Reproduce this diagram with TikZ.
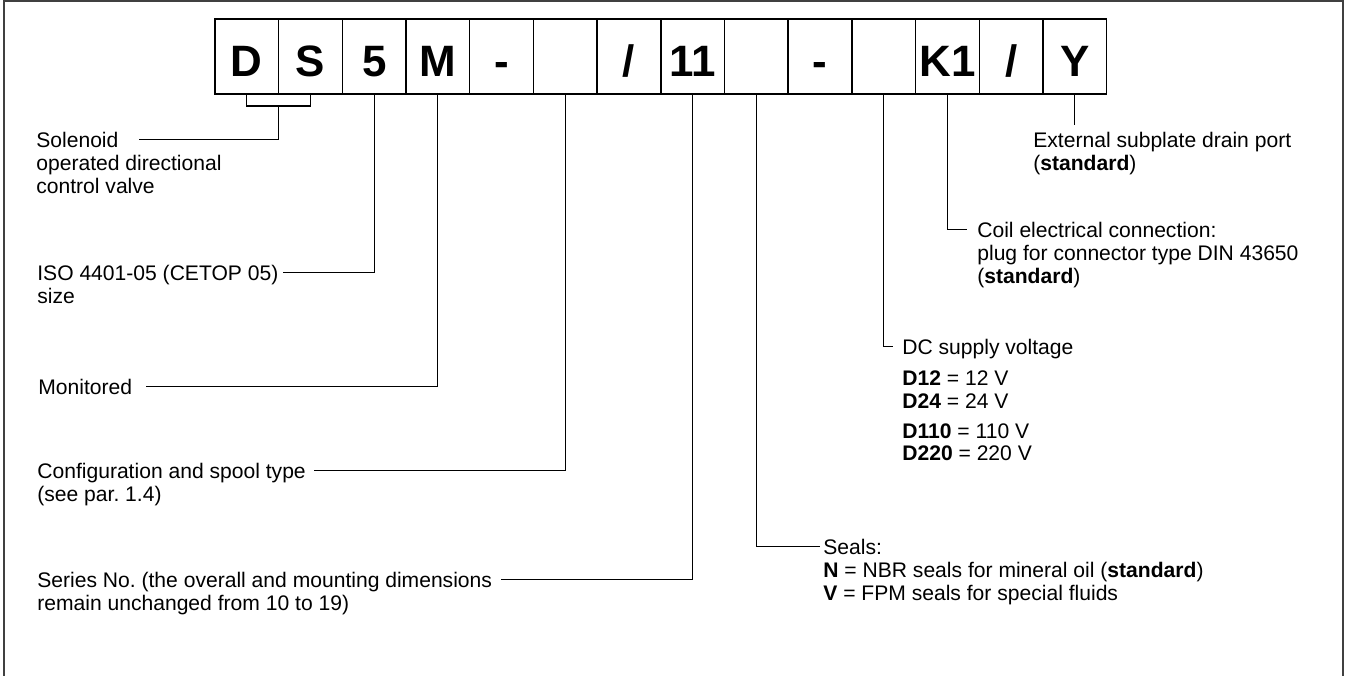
\documentclass[tikz,border=0pt]{standalone}
\usepackage{fontspec}
\setmainfont{Liberation Sans}
\usetikzlibrary{positioning,calc}
\frenchspacing

\begin{document}
\begin{tikzpicture}[
  x=0.02cm, y=-0.02cm,
  cell/.style={draw, line width=0.8pt, minimum width=1.274cm, minimum height=1.5cm,
    inner sep=0pt, outer sep=0pt, text height=0.82cm, text depth=0pt,
    font=\fontsize{25}{30}\selectfont\bfseries},
  lhead/.style={inner sep=0pt, anchor=base west, text height=8.6pt, text depth=0pt,
    font=\fontsize{12}{12.9}\selectfont},
  lbody/.style={inner sep=0pt, align=left, font=\fontsize{12}{12.9}\selectfont},
  lead/.style={line width=0.65pt},
  node distance=0pt,
]
\useasboundingbox (0,0) rectangle (1349,676);
\draw[line width=0.9pt, black!75] (4,676) -- (4,1) -- (1343,1) -- (1343,676);

% ===== Ordering code =====
\node[cell] (k1) at (246.85,56.5) {D};
\node[cell, right=of k1] (k2) {S};
\node[cell, right=of k2] (k3) {5};
\node[cell, right=of k3] (k4) {M};
\node[cell, right=of k4] (k5) {-};
\node[cell, right=of k5] (k6) {};
\node[cell, right=of k6] (k7) {/};
\node[cell, right=of k7] (k8) {11};
\node[cell, right=of k8] (k9) {};
\node[cell, right=of k9] (k10) {-};
\node[cell, right=of k10] (k11) {};
\node[cell, right=of k11] (k12) {K1};
\node[cell, right=of k12] (k13) {/};
\node[cell, right=of k13] (k14) {Y};

% ===== Left labels =====
\node[lhead] (lsol) at (36,147) {Solenoid};
\node[lbody, below right=3.87pt and 0pt of lsol.south west] (lsolb) {\strut operated directional\\control valve};
\node[lhead] (liso) at (37,280) {ISO 4401-05 (CETOP 05)};
\node[lbody, below right=3.87pt and 0pt of liso.south west] (lisob) {\strut size};
\node[lhead] (lmon) at (38,394) {Monitored};
\node[lhead] (lcfg) at (37,478) {Configuration and spool type};
\node[lbody, below right=3.87pt and 0pt of lcfg.south west] (lcfgb) {\strut (see par. 1.4)};
\node[lhead] (lser) at (37,587) {Series No. (the overall and mounting dimensions};
\node[lbody, below right=3.87pt and 0pt of lser.south west] (lserb) {\strut remain unchanged from 10 to 19)};

% ===== Right labels =====
\node[lhead] (lext) at (1033,147) {External subplate drain port};
\node[lbody, below right=3.87pt and 0pt of lext.south west] (lextb) {\strut(\textbf{standard})};
\node[lhead] (lcoil) at (977,237) {Coil electrical connection:};
\node[lbody, below right=3.87pt and 0pt of lcoil.south west] (lcoilb) {\strut plug for connector type DIN 43650\\(\textbf{standard})};
\node[lhead] (ldc) at (902,354) {DC supply voltage};
\node[lbody, below right=8.6pt and 0pt of ldc.south west] (ldcb) {\strut\textbf{D12} = 12 V\\\textbf{D24} = 24 V\\[4pt]\textbf{D110} = 110 V\\\textbf{D220} = 220 V};
\node[lhead] (lseal) at (823,554) {Seals:};
\node[lbody, below right=3.87pt and 0pt of lseal.south west] (lsealb) {\strut\textbf{N} = NBR seals for mineral oil (\textbf{standard})\\\textbf{V} = FPM seals for special fluids};

% ===== Leaders =====
\draw[lead] (k1.south) -- ++(0,12) -| (k2.south);
\draw[lead] ($(k1.south)!0.5!(k2.south)$) ++(0,12) |- ([xshift=0.4cm]lsol.east);
\draw[lead] (k3.south) |- ([xshift=0.08cm]liso.east);
\draw[lead] (k4.south) |- ([xshift=0.28cm]lmon.east);
\draw[lead] (k6.south) |- ([xshift=0.16cm]lcfg.east);
\draw[lead] (k8.south) |- ([xshift=0.18cm]lser.east);
\draw[lead] (k9.south) |- ([xshift=-0.06cm]lseal.west);
\draw[lead] (k11.south) |- ([xshift=-0.18cm]ldc.west);
\draw[lead] (k12.south) |- ([xshift=-0.2cm]lcoil.west);
\draw[lead] (k14.south) -- ([yshift=0.14cm]k14.south |- lext.north);

\end{tikzpicture}
\end{document}
